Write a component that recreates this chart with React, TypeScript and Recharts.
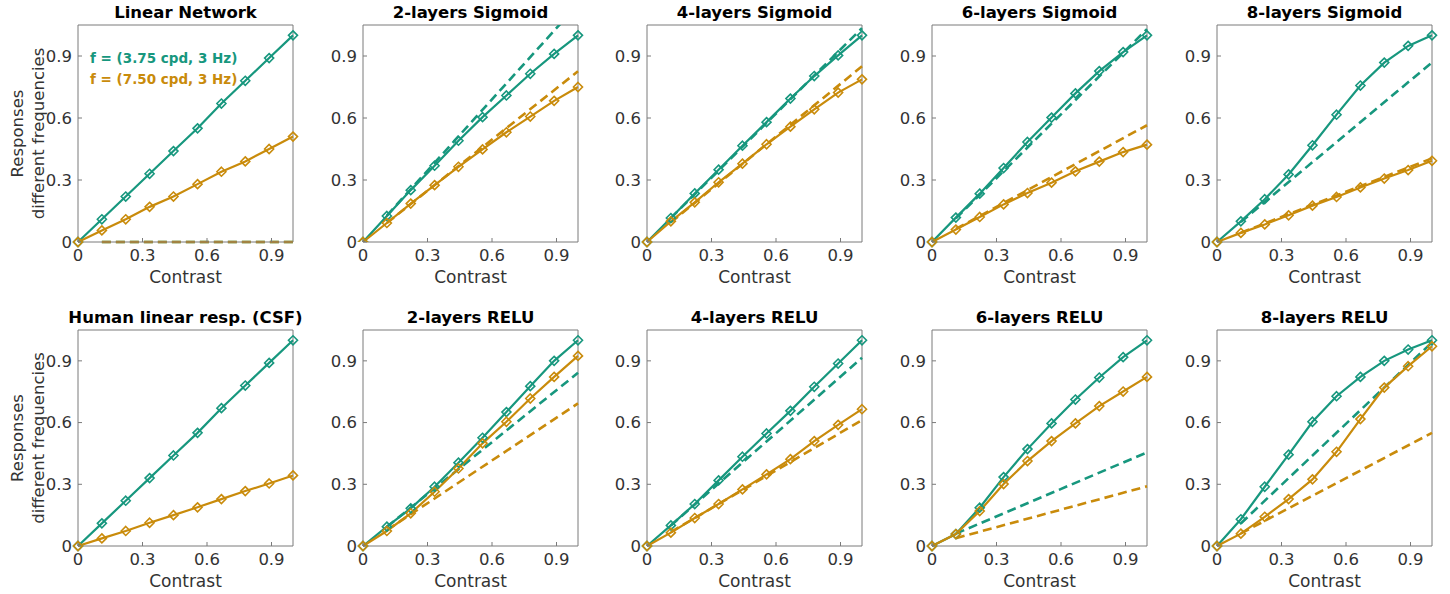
import React from 'react'
import { LineChart, Line, XAxis, YAxis, ReferenceLine } from 'recharts'

// contrast levels shared by every panel
const contrast = [0, 0.111, 0.222, 0.333, 0.444, 0.556, 0.667, 0.778, 0.889, 1]
const axisTicks = [0, 0.3, 0.6, 0.9]

// top row
const linearTeal = [0, 0.11, 0.22, 0.33, 0.44, 0.55, 0.67, 0.78, 0.89, 1.0]
const linearOrange = [0, 0.056, 0.11, 0.17, 0.22, 0.28, 0.34, 0.39, 0.45, 0.51]
const linearDashTeal = [0, 0]
const linearDashOrange = [0, 0]

const sig2Teal = [0, 0.126, 0.251, 0.369, 0.49, 0.604, 0.709, 0.814, 0.91, 1.0]
const sig2Orange = [0, 0.092, 0.186, 0.275, 0.364, 0.448, 0.531, 0.607, 0.683, 0.75]
const sig2DashTeal = [0.128, 1.15]
const sig2DashOrange = [0.092, 0.826]

const sig4Teal = [0, 0.116, 0.235, 0.35, 0.466, 0.58, 0.694, 0.803, 0.903, 1.0]
const sig4Orange = [0, 0.1, 0.192, 0.289, 0.379, 0.473, 0.558, 0.642, 0.723, 0.787]
const sig4DashTeal = [0.116, 1.035]
const sig4DashOrange = [0.095, 0.85]

const sig6Teal = [0, 0.118, 0.234, 0.358, 0.484, 0.602, 0.719, 0.827, 0.919, 1.0]
const sig6Orange = [0, 0.06, 0.121, 0.182, 0.237, 0.287, 0.342, 0.389, 0.435, 0.471]
const sig6DashTeal = [0.114, 1.03]
const sig6DashOrange = [0.063, 0.565]

const sig8Teal = [0, 0.1, 0.207, 0.327, 0.468, 0.616, 0.757, 0.868, 0.949, 1.0]
const sig8Orange = [0, 0.044, 0.085, 0.129, 0.176, 0.218, 0.264, 0.307, 0.348, 0.393]
const sig8DashTeal = [0.097, 0.869]
const sig8DashOrange = [0.045, 0.405]

// bottom row
const humanTeal = [0, 0.11, 0.22, 0.33, 0.44, 0.55, 0.67, 0.78, 0.89, 1.0]
const humanOrange = [0, 0.037, 0.073, 0.113, 0.15, 0.188, 0.228, 0.267, 0.304, 0.343]

const relu2Teal = [0, 0.094, 0.183, 0.288, 0.405, 0.526, 0.651, 0.777, 0.9, 1.0]
const relu2Orange = [0, 0.073, 0.159, 0.264, 0.377, 0.499, 0.604, 0.717, 0.822, 0.924]
const relu2DashTeal = [0.093, 0.842]
const relu2DashOrange = [0.077, 0.693]

const relu4Teal = [0, 0.1, 0.204, 0.319, 0.434, 0.547, 0.657, 0.774, 0.887, 1.0]
const relu4Orange = [0, 0.065, 0.136, 0.204, 0.275, 0.348, 0.422, 0.51, 0.589, 0.665]
const relu4DashTeal = [0.1, 0.915]
const relu4DashOrange = [0.068, 0.612]

const relu6Teal = [0, 0.058, 0.186, 0.335, 0.471, 0.596, 0.712, 0.819, 0.918, 1.0]
const relu6Orange = [0, 0.058, 0.17, 0.301, 0.413, 0.51, 0.596, 0.68, 0.751, 0.822]
const relu6DashTeal = [0.06, 0.455]
const relu6DashOrange = [0.038, 0.29]

const relu8Teal = [0, 0.13, 0.288, 0.444, 0.604, 0.728, 0.822, 0.9, 0.955, 1.0]
const relu8Orange = [0, 0.06, 0.142, 0.228, 0.324, 0.458, 0.617, 0.77, 0.874, 0.971]
const relu8DashTeal = [0.11, 0.99]
const relu8DashOrange = [0.061, 0.55]

const legendLabels = ['f = (3.75 cpd, 3 Hz)', 'f = (7.50 cpd, 3 Hz)']

const TEAL = '#17977e'
const ORANGE = '#c98b0b'
const AXIS = '#7a7a7a'
const TEXT = '#333333'
const FONT = 'DejaVu Sans'
const Y_MAX = 1.05

const plotLefts = [78, 363, 647, 932, 1217]
const rowTops = [25, 330]
const rowHeights = [217, 216]
const PLOT_W = 215

type PanelDef = {
  title: string
  teal: number[]
  orange: number[]
  dashTeal?: number[]
  dashOrange?: number[]
}

const panels: PanelDef[][] = [
  [
    { title: 'Linear Network', teal: linearTeal, orange: linearOrange, dashTeal: linearDashTeal, dashOrange: linearDashOrange },
    { title: '2-layers Sigmoid', teal: sig2Teal, orange: sig2Orange, dashTeal: sig2DashTeal, dashOrange: sig2DashOrange },
    { title: '4-layers Sigmoid', teal: sig4Teal, orange: sig4Orange, dashTeal: sig4DashTeal, dashOrange: sig4DashOrange },
    { title: '6-layers Sigmoid', teal: sig6Teal, orange: sig6Orange, dashTeal: sig6DashTeal, dashOrange: sig6DashOrange },
    { title: '8-layers Sigmoid', teal: sig8Teal, orange: sig8Orange, dashTeal: sig8DashTeal, dashOrange: sig8DashOrange },
  ],
  [
    { title: 'Human linear resp. (CSF)', teal: humanTeal, orange: humanOrange },
    { title: '2-layers RELU', teal: relu2Teal, orange: relu2Orange, dashTeal: relu2DashTeal, dashOrange: relu2DashOrange },
    { title: '4-layers RELU', teal: relu4Teal, orange: relu4Orange, dashTeal: relu4DashTeal, dashOrange: relu4DashOrange },
    { title: '6-layers RELU', teal: relu6Teal, orange: relu6Orange, dashTeal: relu6DashTeal, dashOrange: relu6DashOrange },
    { title: '8-layers RELU', teal: relu8Teal, orange: relu8Orange, dashTeal: relu8DashTeal, dashOrange: relu8DashOrange },
  ],
]

// dashed lines: value at the first non-zero contrast and at contrast 1
const dashAt = (d: number[] | undefined, i: number) => {
  if (!d) return null
  if (i === 1) return d[0]
  if (i === contrast.length - 1) return d[1]
  return null
}

const Diamond = (props: any) => {
  const { cx, cy, color, index } = props
  if (cx == null || cy == null) return <g key={index} />
  const r = 4.5
  return (
    <path
      key={index}
      d={`M${cx},${cy - r}L${cx + r},${cy}L${cx},${cy + r}L${cx - r},${cy}Z`}
      fill="none"
      stroke={color}
      strokeWidth={1.6}
    />
  )
}

const YLabel = (props: any) => {
  const { viewBox } = props
  const cy = viewBox.y + viewBox.height / 2
  return (
    <g fill={TEXT} fontSize={16.5} fontFamily={FONT}>
      <text x={23} y={cy} textAnchor="middle" transform={`rotate(-90, 23, ${cy})`}>Responses</text>
      <text x={44} y={cy} textAnchor="middle" transform={`rotate(-90, 44, ${cy})`}>different frequencies</text>
    </g>
  )
}

const Panel = ({ p, row, col }: { p: PanelDef; row: number; col: number }) => {
  const yw = col === 0 ? 78 : 60
  const h = rowHeights[row]
  // only clip when a dashed fit leaves the box (otherwise lines on y=0 get half-clipped)
  const overflow = [...(p.dashTeal || []), ...(p.dashOrange || [])].some((v) => v > Y_MAX)
  const data = contrast.map((x, i) => ({
    x,
    teal: p.teal[i],
    orange: p.orange[i],
    dTeal: dashAt(p.dashTeal, i),
    dOrange: dashAt(p.dashOrange, i),
  }))
  return (
    <div style={{ position: 'absolute', left: plotLefts[col] - yw, top: rowTops[row] - 25 }}>
      <div
        style={{
          position: 'absolute', left: yw - 40, width: PLOT_W + 80, top: 5, textAlign: 'center',
          fontFamily: FONT, fontWeight: 'bold', fontSize: 16.5, lineHeight: '16.5px', color: '#000', whiteSpace: 'nowrap',
        }}
      >
        {p.title}
      </div>
      <LineChart width={yw + PLOT_W + 10} height={25 + h + 48} data={data} margin={{ top: 25, right: 10, bottom: 0, left: 0 }}>
        <XAxis
          dataKey="x" type="number" domain={[0, 1]} ticks={axisTicks}
          height={48} stroke={AXIS} tickSize={-4} tickMargin={11}
          tick={{ fill: TEXT, fontSize: 16.5, fontFamily: FONT }}
          label={{ value: 'Contrast', position: 'insideBottom', offset: 7, fill: TEXT, fontSize: 17, fontFamily: FONT }}
        />
        <YAxis
          type="number" domain={[0, Y_MAX]} ticks={axisTicks} allowDataOverflow={overflow}
          width={yw} stroke={AXIS} tickSize={-4} tickMargin={10}
          tick={{ fill: TEXT, fontSize: 16.5, fontFamily: FONT }}
          label={col === 0 ? <YLabel /> : undefined}
        />
        <ReferenceLine y={Y_MAX} stroke={AXIS} />
        <ReferenceLine x={1} stroke={AXIS} />
        {p.dashTeal && (
          <Line dataKey="dTeal" stroke={TEAL} strokeWidth={2.6} strokeDasharray="9 5" dot={false} connectNulls isAnimationActive={false} />
        )}
        {p.dashOrange && (
          <Line dataKey="dOrange" stroke={ORANGE} strokeWidth={2.6} strokeDasharray="9 5" dot={false} connectNulls isAnimationActive={false} />
        )}
        <Line dataKey="teal" stroke={TEAL} strokeWidth={2.2} dot={(d: any) => <Diamond {...d} key={d.index} color={TEAL} />} isAnimationActive={false} />
        <Line dataKey="orange" stroke={ORANGE} strokeWidth={2.2} dot={(d: any) => <Diamond {...d} key={d.index} color={ORANGE} />} isAnimationActive={false} />
      </LineChart>
      {row === 0 && col === 0 && (
        <div style={{ position: 'absolute', left: 90 - (plotLefts[0] - yw), top: 48, fontFamily: FONT, fontWeight: 'bold', fontSize: 13.5, lineHeight: '21px', whiteSpace: 'nowrap' }}>
          <div style={{ color: TEAL }}>{legendLabels[0]}</div>
          <div style={{ color: ORANGE }}>{legendLabels[1]}</div>
        </div>
      )}
    </div>
  )
}

export default function App() {
  return (
    <div style={{ position: 'absolute', left: 0, top: 0, width: 1450, height: 594, overflow: 'hidden', background: '#fff' }}>
      {panels.map((rowPanels, r) =>
        rowPanels.map((p, c) => <Panel key={`${r}-${c}`} p={p} row={r} col={c} />)
      )}
    </div>
  )
}
